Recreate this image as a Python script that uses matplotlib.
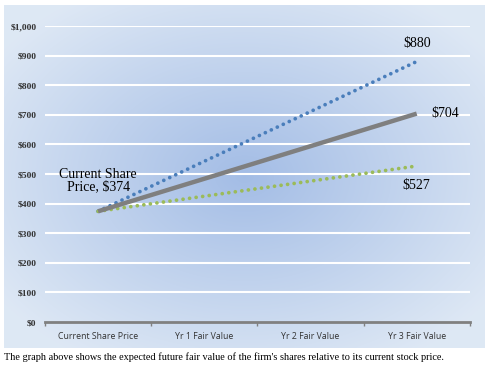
import numpy as np
import matplotlib.pyplot as plt

# data
categories = ['Current Share Price', 'Yr 1 Fair Value', 'Yr 2 Fair Value', 'Yr 3 Fair Value']
high_values = [374, 543, 711, 880]
mid_values = [374, 484, 594, 704]
low_values = [374, 425, 476, 527]
y_ticks = [0, 100, 200, 300, 400, 500, 600, 700, 800, 900, 1000]
y_labels = ['$' + format(v, ',') for v in y_ticks]

fig = plt.figure(figsize=(4.9, 3.7), dpi=100)
fig.patch.set_facecolor('white')

# background chart box with radial gradient
bg = fig.add_axes([0.008, 0.0595, 0.98, 0.927])
bg.set_axis_off()
yy, xx = np.mgrid[-1:1:200j, -1:1:260j]
r = np.clip(np.sqrt(xx ** 2 + yy ** 2) / 1.25, 0, 1)
inner = np.array([0.64, 0.74, 0.90])
outer = np.array([0.87, 0.91, 0.96])
img = inner[None, None, :] * (1 - r[..., None]) + outer[None, None, :] * r[..., None]
bg.imshow(img, aspect='auto', extent=[0, 1, 0, 1], interpolation='bilinear')
bg.set_xlim(0, 1)
bg.set_ylim(0, 1)

ax = fig.add_axes([0.0918, 0.1297, 0.867, 0.8])
ax.patch.set_alpha(0)
x = np.arange(len(categories))

ax.set_ylim(0, 1000)
ax.set_xlim(-0.5, 3.5)
ax.set_yticks(y_ticks)
ax.set_yticklabels(y_labels, fontsize=6.8, fontweight='bold', color='#333333', family='Liberation Serif')
for v in y_ticks[1:]:
    ax.axhline(v, color='white', lw=1.5, zorder=1)

dots = (0, (0.01, 1.75))
ax.plot(x, high_values, color='#4a7ebb', lw=2.7, ls=dots, dash_capstyle='round', zorder=3)
ax.plot(x, mid_values, color='#7f7f7f', lw=3.2, solid_capstyle='butt', zorder=4)
ax.plot(x, low_values, color='#9bbb59', lw=2.7, ls=dots, dash_capstyle='round', zorder=3)

for s in ['top', 'right', 'left']:
    ax.spines[s].set_visible(False)
ax.spines['bottom'].set_color('#808080')
ax.spines['bottom'].set_linewidth(2)
ax.tick_params(axis='y', length=0, pad=6)
ax.set_xticks(x)
ax.set_xticklabels(categories, fontsize=6.3, color='#333333', family='Open Sans')
ax.tick_params(axis='x', length=0, pad=7)
ax.set_xticks(np.arange(-0.5, 4.0, 1.0), minor=True)
ax.tick_params(axis='x', which='minor', length=3, width=1, color='#808080')

serif = 'Liberation Serif'
ax.text(0.0, 478, 'Current Share\nPrice, $' + str(mid_values[0]), family=serif,
        fontsize=10, ha='center', va='center', linespacing=1.0)
ax.text(3.0, 942, '$' + str(high_values[-1]), family=serif, fontsize=10, ha='center', va='center')
ax.text(3.27, 704, '$' + str(mid_values[-1]), family=serif, fontsize=10, ha='center', va='center')
ax.text(3.0, 462, '$' + str(low_values[-1]), family=serif, fontsize=10, ha='center', va='center')

fig.text(0.008, 0.035, "The graph above shows the expected future fair value of the firm's shares relative to its current stock price.",
         family=serif, fontsize=7.4, va='center', ha='left')

fig.savefig('out.png', dpi=100)
